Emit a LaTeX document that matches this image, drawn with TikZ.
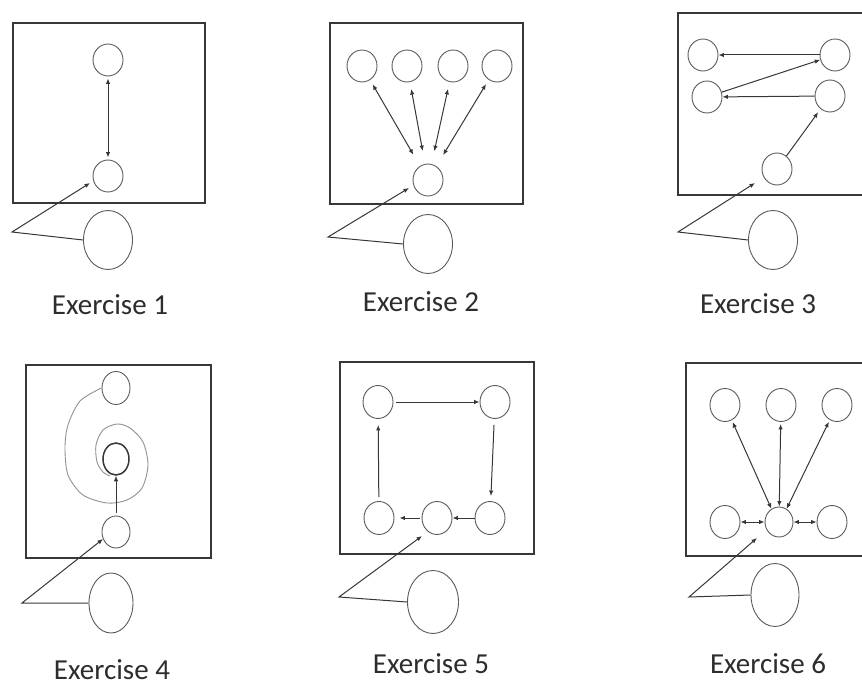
\documentclass[tikz,border=0pt]{standalone}
\usepackage{fontspec}
\setmainfont{Carlito}
\usepackage{tikz}
\usetikzlibrary{arrows.meta,shapes.geometric}
\definecolor{linegray}{RGB}{55,55,55}
\definecolor{ringgray}{RGB}{90,90,90}
\definecolor{spiralgray}{RGB}{145,145,145}
\definecolor{textgray}{RGB}{45,45,45}
\tikzset{
  frame/.style={draw=linegray, line width=1.3pt},
  state/.style={ellipse, draw=ringgray, line width=0.9pt, minimum width=30pt,
                minimum height=32pt, inner sep=0pt},
  talker/.style={ellipse, draw=ringgray, line width=0.9pt, minimum width=49pt,
                 minimum height=59pt, inner sep=0pt},
  arrow/.style={-{Latex[length=5.5pt,width=4.5pt]}, line width=1pt, linegray},
  twoway/.style={{Latex[length=5.5pt,width=4.5pt]}-{Latex[length=5.5pt,width=4.5pt]},
                 line width=1pt, linegray},
  spiral/.style={draw=spiralgray, line width=0.9pt},
  caption/.style={font=\fontsize{29}{34}\selectfont, text=textgray, anchor=base},
}
\begin{document}
\begin{tikzpicture}[x=1pt, y=-1pt]
\useasboundingbox (0,0) rectangle (862,687);
\clip (0,0) rectangle (862,687);

% Exercise 1
\draw[frame] (13,23) rectangle (205,203);
\node[state] (p1top) at (108,60) {};
\node[state] (p1bot) at (108,176) {};
\draw[twoway, shorten <=2pt, shorten >=2pt] (p1top) -- (p1bot);
\node[talker] (p1talk) at (108,240) {};
\coordinate (p1bend) at (12,232);
\coordinate (p1tip) at (90,183);
\draw[arrow] (p1talk.west) -- (p1bend) -- (p1tip);
\node[caption] (p1cap) at (110,314) {Exercise 1};

% Exercise 2
\draw[frame] (330,23) rectangle (523,204);
\node[state] (p2a) at (362,66) {};
\node[state] (p2b) at (407,66) {};
\node[state] (p2c) at (453,66) {};
\node[state] (p2d) at (497,66) {};
\node[state] (p2hub) at (428,180) {};
\draw[twoway, shorten <=13pt, shorten >=5pt] (p2hub) -- (p2a);
\draw[twoway, shorten <=13pt, shorten >=7pt] (p2hub) -- (p2b);
\draw[twoway, shorten <=13pt, shorten >=7pt] (p2hub) -- (p2c);
\draw[twoway, shorten <=13pt, shorten >=5pt] (p2hub) -- (p2d);
\node[talker] (p2talk) at (428,244) {};
\coordinate (p2bend) at (328,237);
\coordinate (p2tip) at (409,188);
\draw[arrow] (p2talk.west) -- (p2bend) -- (p2tip);
\node[caption] (p2cap) at (421,311) {Exercise 2};

% Exercise 3
\draw[frame] (678,13) rectangle (870,195);
\node[state] (p3a) at (703,55) {};
\node[state] (p3b) at (835,55) {};
\node[state] (p3c) at (707,97) {};
\node[state] (p3d) at (830,96) {};
\node[state] (p3e) at (777,169) {};
\draw[arrow] (p3b) -- (p3a);
\draw[arrow] (p3c) -- (p3b);
\draw[arrow] (p3d) -- (p3c);
\draw[arrow, shorten >=4pt] (p3e) -- (p3d);
\node[talker] (p3talk) at (773,240) {};
\coordinate (p3bend) at (678,232);
\coordinate (p3tip) at (755,183);
\draw[arrow] (p3talk.west) -- (p3bend) -- (p3tip);
\node[caption] (p3cap) at (758,313) {Exercise 3};

% Exercise 4
\draw[frame] (26,365) rectangle (211,558);
\node[state, minimum width=28pt, minimum height=33pt] (p4top) at (116,388) {};
\node[state, minimum width=26pt, minimum height=32pt, line width=1.5pt,
      draw=linegray] (p4mid) at (116,459) {};
\node[state, minimum width=28pt, minimum height=32pt] (p4bot) at (116,532) {};
\draw[spiral] plot[smooth] coordinates {(p4top.west) (80,401) (68,425) (65,448)
  (68,475) (83,495) (107,503) (127,500) (142,488) (148,465) (143,442) (130,428)
  (117,424) (103,430) (96,445) (97,462) (103,472) (110,476)};
\draw[arrow, shorten <=3pt] (p4bot) -- (p4mid);
\node[talker, minimum width=44pt, minimum height=60pt] (p4talk) at (111,603) {};
\coordinate (p4bend) at (22,603);
\coordinate (p4tip) at (103,539);
\draw[arrow] (p4talk.west) -- (p4bend) -- (p4tip);
\node[caption] (p4cap) at (112,679) {Exercise 4};

% Exercise 5
\draw[frame] (340,362) rectangle (534,554);
\node[state, minimum height=33pt] (p5a) at (378,402) {};
\node[state, minimum height=33pt] (p5b) at (495,402) {};
\node[state, minimum height=33pt] (p5c) at (490,518) {};
\node[state, minimum height=33pt] (p5d) at (437,518) {};
\node[state, minimum height=33pt] (p5e) at (379,518) {};
\draw[arrow, shorten <=3pt] (p5a) -- (p5b);
\draw[arrow, shorten <=6pt, shorten >=5pt] (p5b) -- (p5c);
\draw[arrow] (p5c) -- (p5d);
\draw[arrow, shorten <=2pt, shorten >=5pt] (p5d) -- (p5e);
\draw[arrow, shorten <=4pt, shorten >=6pt] (p5e) -- (p5a);
\node[talker, minimum width=51pt, minimum height=63pt] (p5talk) at (433,602) {};
\coordinate (p5bend) at (339,597);
\coordinate (p5tip) at (422,536);
\draw[arrow] (p5talk.west) -- (p5bend) -- (p5tip);
\node[caption] (p5cap) at (431,673) {Exercise 5};

% Exercise 6
\draw[frame] (686,363) rectangle (878,556);
\node[state, minimum height=33pt] (p6a) at (725,405) {};
\node[state, minimum height=33pt] (p6b) at (781,405) {};
\node[state, minimum height=33pt] (p6c) at (837,405) {};
\node[state, minimum height=33pt] (p6d) at (725,522) {};
\node[state, minimum width=28pt, minimum height=30pt] (p6hub) at (779,522) {};
\node[state, minimum height=33pt] (p6e) at (832,522) {};
\draw[twoway, shorten >=2pt] (p6hub.120) -- (p6a);
\draw[twoway, shorten >=2pt] (p6hub) -- (p6b);
\draw[twoway, shorten >=2pt] (p6hub.60) -- (p6c);
\draw[twoway] (p6d) -- (p6hub);
\draw[twoway] (p6hub) -- (p6e);
\node[talker, minimum width=48pt, minimum height=63pt] (p6talk) at (775,595) {};
\coordinate (p6bend) at (689,597);
\coordinate (p6tip) at (757,538);
\draw[arrow] (p6talk.west) -- (p6bend) -- (p6tip);
\node[caption] (p6cap) at (768,673) {Exercise 6};
\end{tikzpicture}
\end{document}
